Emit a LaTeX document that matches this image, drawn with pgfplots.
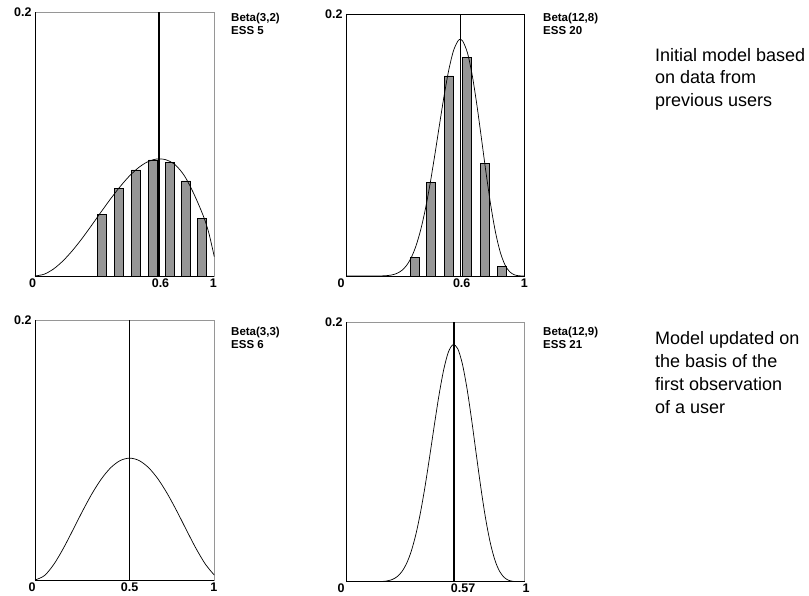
\documentclass[border=0pt]{standalone}
\usepackage{pgfplots}
\pgfplotsset{compat=1.18}
\usepackage{fontspec}
\setmainfont{Liberation Sans}
\definecolor{bargray}{RGB}{150,150,150}
\definecolor{framegray}{RGB}{150,150,150}

\pgfplotsset{
  panel/.style={
    scale only axis, anchor=south west,
    ymin=0, ymax=0.2, xmin=0,
    ytick={0.2}, yticklabels={0.2},
    major tick length=0,
    clip mode=individual,
    tick label style={font=\bfseries\fontsize{12.5}{13}\selectfont},
    xticklabel style={yshift=1pt},
    /pgf/number format/assume math mode=true,
    axis line style={framegray, line width=0.6pt},
  },
  curve/.style={black, line width=0.7pt, smooth, tension=0.5, mark=none},
  bars/.style={ybar, bar width=9pt, bar shift=0pt, fill=bargray, draw=black, line width=0.6pt},
  vline/.style={black, line width=1pt, mark=none},
}

\begin{document}
\begin{tikzpicture}[x=1pt,y=1pt]
\useasboundingbox (0,0) rectangle (809,595);

% ---------------- top left: Beta(3,2)
\begin{axis}[panel, at={(35pt,319pt)}, width=179.3pt, height=263.7pt, xmax=0.96,
  xtick={0,0.672,0.955}, xticklabels={\makebox[0pt]{0\hspace{5pt}},0.6,1}]
\addplot[bars] coordinates {(0.360,0.0468) (0.450,0.0662) (0.542,0.0804) (0.633,0.0880) (0.723,0.0862) (0.809,0.0721) (0.895,0.0437)};
\addplot[curve] coordinates {(0,0) (0.05,0.0014) (0.1,0.0054) (0.15,0.0115) (0.2,0.0192) (0.25,0.0281) (0.3,0.0378) (0.35,0.0478) (0.4,0.0576) (0.45,0.0668) (0.5,0.0750) (0.55,0.0817) (0.6,0.0864) (0.65,0.0887) (0.7,0.0882) (0.75,0.0844) (0.8,0.0760) (0.85,0.0625) (0.9,0.0460) (0.93,0.0330) (0.96,0.0146)};
\addplot[black, line width=2pt, mark=none] coordinates {(0.662,0) (0.662,0.2)};
\draw[black, line width=0.9pt] (rel axis cs:0,1) -- (rel axis cs:0,0) -- (rel axis cs:1,0);
\end{axis}

% ---------------- top right: Beta(12,8)
\begin{axis}[panel, at={(346pt,319pt)}, width=178.7pt, height=262pt, xmax=0.956,
  axis line style={black, line width=0.6pt},
  xtick={0,0.619,0.954}, xticklabels={\makebox[0pt]{0\hspace{10pt}},0.6,1}]
\addplot[bars] coordinates {(0.370,0.01425) (0.456,0.0715) (0.550,0.1527) (0.646,0.1669) (0.742,0.0860) (0.833,0.0076)};
\addplot[curve] coordinates {(0,0) (0.15,0) (0.2,0.00013) (0.225,0.00038) (0.25,0.00096) (0.275,0.00217) (0.3,0.00441) (0.325,0.00825) (0.35,0.01431) (0.375,0.02323) (0.4,0.0355) (0.425,0.05133) (0.45,0.07053) (0.475,0.09231) (0.5,0.11532) (0.525,0.13774) (0.55,0.15737) (0.575,0.17199) (0.6,0.1797) (0.611,0.1804) (0.625,0.17922) (0.65,0.17022) (0.675,0.15347) (0.7,0.13075) (0.725,0.10461) (0.75,0.07794) (0.775,0.05347) (0.8,0.03324) (0.825,0.01831) (0.85,0.00864) (0.875,0.00332) (0.9,0.00095) (0.925,0.00017) (0.956,0)};
\addplot[vline] coordinates {(0.610,0) (0.610,0.2)};
\draw[black, line width=0.9pt] (rel axis cs:0,1) -- (rel axis cs:0,0) -- (rel axis cs:1,0);
\end{axis}

% ---------------- bottom left: Beta(3,3)
\begin{axis}[panel, at={(35pt,15pt)}, width=179.3pt, height=260pt, xmax=0.947,
  xtick={0,0.5,0.945}, xticklabels={\makebox[0pt]{0\hspace{6pt}},0.5,1}]
\addplot[curve] coordinates {(0,0) (0.05,0.00338) (0.1,0.01215) (0.15,0.02438) (0.2,0.0384) (0.25,0.05273) (0.3,0.06615) (0.35,0.07763) (0.4,0.0864) (0.45,0.09188) (0.5,0.09375) (0.55,0.09188) (0.6,0.0864) (0.65,0.07763) (0.7,0.06615) (0.75,0.05273) (0.8,0.0384) (0.85,0.02438) (0.9,0.01215) (0.947,0.00378)};
\addplot[black, line width=1.3pt, mark=none] coordinates {(0.5,0) (0.5,0.2)};
\draw[black, line width=0.9pt] (rel axis cs:0,1) -- (rel axis cs:0,0) -- (rel axis cs:1,0);
\end{axis}

% ---------------- bottom right: Beta(12,9)
\begin{axis}[panel, at={(346pt,13.3pt)}, width=178.7pt, height=259.4pt, xmax=0.96,
  xtick={0,0.629,0.96}, xticklabels={\makebox[0pt]{0\hspace{10pt}},0.57,\makebox[0pt]{\hspace{3pt}\raisebox{-5pt}{1}}}]
\addplot[curve] coordinates {(0,0) (0.15,0) (0.2,0.00026) (0.225,0.00074) (0.25,0.0018) (0.275,0.00392) (0.3,0.00772) (0.325,0.01392) (0.35,0.02325) (0.375,0.03629) (0.4,0.05325) (0.425,0.07379) (0.45,0.09697) (0.475,0.12115) (0.5,0.14415) (0.525,0.16357) (0.55,0.17705) (0.575,0.1827) (0.6,0.1797) (0.625,0.16802) (0.65,0.14895) (0.675,0.12469) (0.7,0.09806) (0.725,0.07192) (0.75,0.04871) (0.775,0.03008) (0.8,0.01662) (0.825,0.00801) (0.85,0.00324) (0.875,0.00104) (0.9,0.00024) (0.925,0.00003) (0.96,0)};
\addplot[black, line width=1.2pt, mark=none] coordinates {(0.580,0) (0.580,0.2)};
\draw[black, line width=0.9pt] (rel axis cs:0,1) -- (rel axis cs:0,0) -- (rel axis cs:1,0);
\end{axis}

% ---------------- labels
\begin{scope}[every node/.style={anchor=north west, inner sep=0pt, align=left, font=\bfseries\fontsize{11.5}{13}\selectfont}]
\node at (231,582) {Beta(3,2)\\ESS 5};
\node at (543,582) {Beta(12,8)\\ESS 20};
\node at (231,268) {Beta(3,3)\\ESS 6};
\node at (543,268) {Beta(12,9)\\ESS 21};
\end{scope}
\node[anchor=north west, inner sep=0pt, align=left, font=\fontsize{18}{22.5}\selectfont] at (655,547) {Initial model based\\on data from\\previous users};
\node[anchor=north west, inner sep=0pt, align=left, font=\fontsize{18}{22.7}\selectfont] at (655,263.3) {Model updated on\\the basis of the\\first observation\\of a user};
\end{tikzpicture}
\end{document}
